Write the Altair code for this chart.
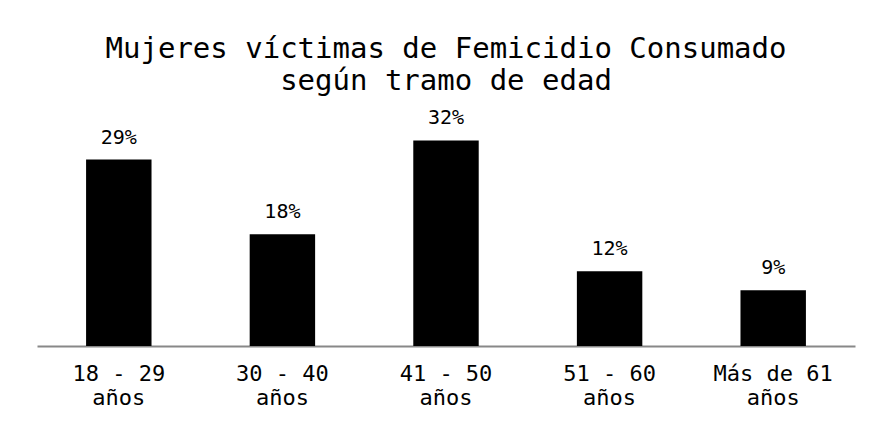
import altair as alt
import pandas as pd

categories = ["18 - 29 años", "30 - 40 años", "41 - 50 años", "51 - 60 años", "Más de 61 años"]
values = [29.4, 17.6, 32.4, 11.8, 8.8]
labels = ["29%", "18%", "32%", "12%", "9%"]

df = pd.DataFrame({"cat": categories, "val": values, "lab": labels})

FONT = "DejaVu Sans Mono"

x = alt.X("cat:N", sort=categories, title=None,
          scale=alt.Scale(paddingInner=0.6, paddingOuter=0.3),
          axis=alt.Axis(labelAngle=0, labelFont=FONT, labelFontSize=22, labelColor="#000000",
                        labelPadding=17, labelLineHeight=24, ticks=False,
                        domainColor="#888888", domainWidth=2,
                        labelExpr="[substring(datum.label,0,lastindexof(datum.label,' ')), substring(datum.label,lastindexof(datum.label,' ')+1)]"))
y = alt.Y("val:Q", scale=alt.Scale(domain=[0, 35]), axis=None)

bars = alt.Chart(df).mark_bar(color="#000000").encode(x=x, y=y)
text = alt.Chart(df).mark_text(font=FONT, fontSize=20, color="#000000", baseline="alphabetic", dy=-16).encode(
    x=x, y=y, text="lab:N")

chart = alt.layer(bars, text).properties(
    width=818, height=222,
    autosize=alt.AutoSizeParams(type="none"),
    padding={"left": 29, "top": 116, "right": 10, "bottom": 67},
    title=alt.TitleParams(["Mujeres víctimas de Femicidio Consumado", "según tramo de edad"],
                          font=FONT, fontSize=29, fontWeight="normal", color="#000000",
                          anchor="middle", lineHeight=32, offset=12),
).configure(background="white", view=alt.ViewConfig(strokeWidth=0))

chart.save("out.html", embed_options={"renderer": "svg", "actions": False})
